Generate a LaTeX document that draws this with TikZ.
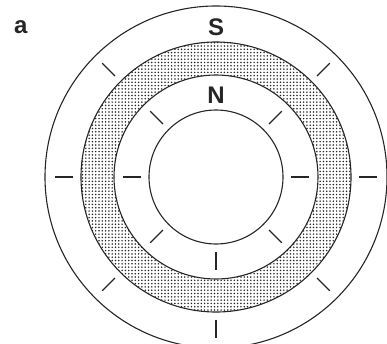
\documentclass[tikz,border=0pt]{standalone}
\usepackage{fontspec}
\setmainfont{Liberation Sans}
\usetikzlibrary{patterns.meta,calc}
\tikzset{
  ring/.style={draw=black!85, line width=1.1pt},
  tick/.style={draw=black!85, line width=1.1pt},
  lbl/.style={font=\fontsize{24}{24}\selectfont\bfseries, text=black!85, inner sep=0pt},
}
\begin{document}
\begin{tikzpicture}[x=1pt,y=1pt]
\useasboundingbox (0,0) rectangle (387,343);
\clip (0,0) rectangle (387,343);
\coordinate (c) at (216,166);
% shaded annulus
\fill[pattern={Dots[radius=0.85pt, distance=3.3pt]}, pattern color=black!85, even odd rule]
  (c) circle[radius=135] (c) circle[radius=102];
\draw[ring] (c) circle[radius=171];
\draw[ring] (c) circle[radius=135];
\draw[ring] (c) circle[radius=102];
\draw[ring] (c) circle[radius=67];
% ticks
\foreach \a in {0,45,135,180,225,270,315}{
  \draw[tick] ($(c)+(\a:143)$) -- ($(c)+(\a:161)$);
  \draw[tick] ($(c)+(\a:75)$) -- ($(c)+(\a:93)$);
}
\node[lbl] (S) at (216,316) {S};
\node[lbl] (N) at (216,248) {N};
\node[lbl, anchor=base west] (a) at (14,309) {a};
\end{tikzpicture}
\end{document}
